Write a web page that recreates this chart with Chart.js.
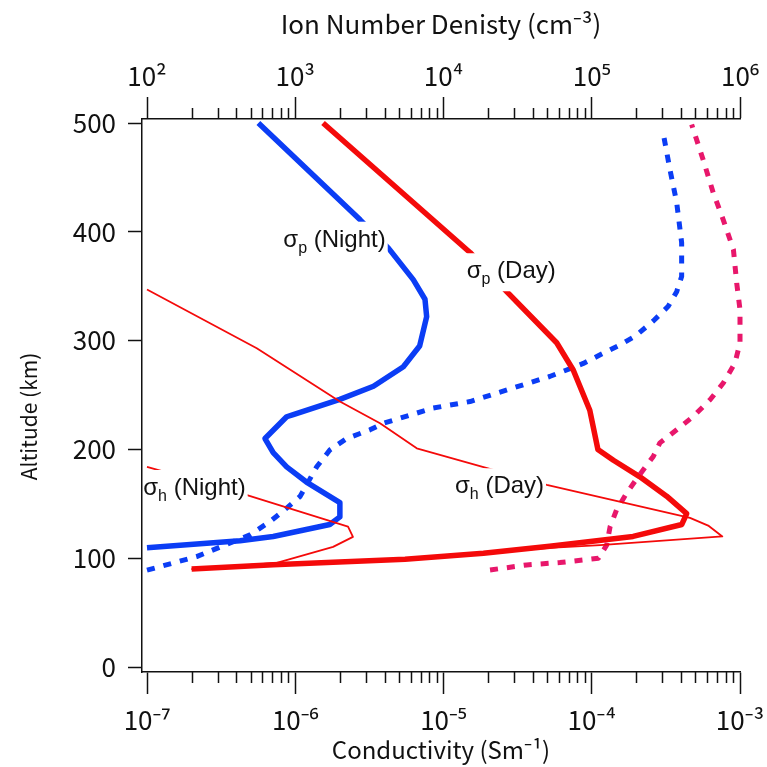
<!DOCTYPE html>
<html>
<head>
<meta charset="utf-8">
<script src="https://cdn.jsdelivr.net/npm/chart.js@4.4.1/dist/chart.umd.min.js"></script>
<style>
  html, body { margin: 0; padding: 0; background: #fff; }
  #wrap { width: 767px; height: 767px; }
</style>
</head>
<body>
<div id="wrap"><canvas id="myChart" width="767" height="767"></canvas></div>
<script>
// altitude (km) / value pairs
const pNightAlt  = [500, 411, 385, 356, 338, 322, 295, 276, 258, 246, 232, 230, 210, 197, 184, 170, 151, 138, 131, 120, 116, 109.5];
const pNightCond = [5.64e-7, 2.74e-6, 4.25e-6, 6.25e-6, 7.5e-6, 7.7e-6, 6.9e-6, 5.36e-6, 3.37e-6, 2.0e-6, 9.7e-7, 8.75e-7, 6.25e-7, 7.1e-7, 8.75e-7, 1.19e-6, 2.0e-6, 2.0e-6, 1.71e-6, 7.1e-7, 4.24e-7, 1.0e-7];

const pDayAlt  = [500, 381, 345, 298, 273, 236, 200, 190, 175, 157, 141, 131, 120, 111, 104.5, 99, 94, 90];
const pDayCond = [1.54e-6, 1.51e-5, 2.67e-5, 5.8e-5, 7.5e-5, 9.7e-5, 1.1e-4, 1.4e-4, 2.1e-4, 3.2e-4, 4.37e-4, 4.05e-4, 1.9e-4, 5.2e-5, 1.86e-5, 5.5e-6, 7.1e-7, 2.0e-7];

const hNightAlt  = [184, 158, 129, 119.6, 110.4, 95.7, 90];
const hNightCond = [1.0e-7, 4.73e-7, 2.27e-6, 2.45e-6, 1.8e-6, 7.5e-7, 2.0e-7];

const hDayAlt  = [347, 293, 244, 224, 201, 167.4, 137, 130, 120, 112, 109.5, 99, 90];
const hDayCond = [1.0e-7, 5.5e-7, 2.0e-6, 3.73e-6, 6.6e-6, 4.97e-5, 4.6e-4, 6.1e-4, 7.6e-4, 1.14e-4, 5.2e-5, 5.5e-6, 2.0e-7];

const nNightAlt  = [89, 101.5, 121.4, 133.7, 146, 156.7, 184, 199.6, 210, 218, 224, 238, 244, 267, 273, 279, 287, 295, 304, 318, 331.5, 345, 359, 390, 427, 457, 490];
const nNightDens = [100, 216, 495, 676, 875, 1077, 1396, 1715, 2222, 3190, 3929, 8530, 1.51e4, 5.2e4, 6.77e4, 8.77e4, 1.14e5, 1.5e5, 1.96e5, 2.6e5, 3.28e5, 3.74e5, 4.04e5, 4.04e5, 3.74e5, 3.37e5, 3.04e5];

const nDayAlt  = [89.2, 93.8, 96, 100, 112, 129, 144.4, 159.8, 175, 193.5, 206, 218, 230.3, 245.6, 261, 279.4, 297.8, 328.4, 353, 383.6, 411, 435.8, 466, 498.6];
const nDayDens = [2.06e4, 3.64e4, 6.1e4, 1.11e5, 1.26e5, 1.33e5, 1.47e5, 1.72e5, 2.06e5, 2.6e5, 2.88e5, 3.74e5, 4.84e5, 6.28e5, 7.71e5, 9.25e5, 1.0e6, 1.0e6, 9.5e5, 9.03e5, 7.71e5, 6.6e5, 5.65e5, 4.72e5];

const condTicks = [1e-7, 1e-6, 1e-5, 1e-4, 1e-3];
const condTickLabels = ['10\u207B\u2077', '10\u207B\u2076', '10\u207B\u2075', '10\u207B\u2074', '10\u207B\u00B3'];
const densTicks = [1e2, 1e3, 1e4, 1e5, 1e6];
const densTickLabels = ['10\u00B2', '10\u00B3', '10\u2074', '10\u2075', '10\u2076'];
const altTicks = [0, 100, 200, 300, 400, 500];

// curve names, anchored at (conductivity, altitude)
const notes = [
  { sym: '\u03C3', sub: 'p', text: '(Night)', x: 8.31e-7, y: 386.3 },
  { sym: '\u03C3', sub: 'p', text: '(Day)', x: 1.434e-5, y: 357.3 },
  { sym: '\u03C3', sub: 'h', text: '(Night)', x: 9.44e-8, y: 158.1 },
  { sym: '\u03C3', sub: 'h', text: '(Day)', x: 1.196e-5, y: 159.7 }
];

const BLUE = '#0b3df5';
const RED = '#f40a0a';
const PINK = '#e8176b';
const AXIS = '#111';
const FONT = '"Noto Sans CJK JP", "Noto Sans", sans-serif';
const NOTE_FONT = '"Liberation Sans", Arial, sans-serif';

// axis standoff like the original (axes sit a few px off the data)
const standoff = 5 / 148.25;

function pts(alt, val) {
  return alt.map((a, i) => ({ x: val[i], y: a }));
}

function noPad(s) {
  s.paddingLeft = 0; s.paddingRight = 0; s.paddingTop = 0; s.paddingBottom = 0;
}

const extras = {
  id: 'extras',
  afterDatasetsDraw(chart) {
    const ctx = chart.ctx;
    const xs = chart.scales.x, ys = chart.scales.y;
    ctx.save();
    notes.forEach(n => {
      const x0 = xs.getPixelForValue(n.x);
      const y0 = ys.getPixelForValue(n.y);
      ctx.font = '24px ' + NOTE_FONT;
      const wSym = ctx.measureText(n.sym).width;
      const wGap = ctx.measureText(' ').width;
      const wText = ctx.measureText(n.text).width;
      ctx.font = '16px ' + NOTE_FONT;
      const wSub = ctx.measureText(n.sub).width;
      const total = wSym + wSub + wGap + wText;
      const left = Math.max(x0 - 2, chart.chartArea.left + 1.5);
      ctx.fillStyle = '#fff';
      ctx.fillRect(left, y0 - 25, x0 + total + 2 - left, 38);
      ctx.fillStyle = '#111';
      ctx.textBaseline = 'alphabetic';
      ctx.textAlign = 'left';
      ctx.font = '24px ' + NOTE_FONT;
      ctx.fillText(n.sym, x0, y0);
      ctx.fillText(n.text, x0 + wSym + wSub + wGap, y0);
      ctx.font = '16px ' + NOTE_FONT;
      ctx.fillText(n.sub, x0 + wSym, y0 + 6);
    });
    ctx.restore();
  },
  afterDraw(chart) {
    // short minor ticks on both log axes
    const ctx = chart.ctx;
    ctx.save();
    ctx.strokeStyle = AXIS;
    ctx.lineWidth = 1.5;
    [['x', condTicks, 1], ['x2', densTicks, -1]].forEach(([id, majors, dir]) => {
      const s = chart.scales[id];
      const base = dir > 0 ? s.top : s.bottom;
      ctx.beginPath();
      for (let k = 0; k < majors.length - 1; k++) {
        for (let m = 2; m <= 9; m++) {
          const px = Math.round(s.getPixelForValue(majors[k] * m)) + 0.5;
          ctx.moveTo(px, base);
          ctx.lineTo(px, base + dir * 11);
        }
      }
      ctx.stroke();
    });
    ctx.restore();
  }
};

const ctx = document.getElementById('myChart').getContext('2d');
const chart = new Chart(ctx, {
  type: 'line',
  data: {
    datasets: [
      { label: 'sigma_h Day', data: pts(hDayAlt, hDayCond), xAxisID: 'x', borderColor: RED, borderWidth: 1.8 },
      { label: 'sigma_h Night', data: pts(hNightAlt, hNightCond), xAxisID: 'x', borderColor: RED, borderWidth: 1.8 },
      { label: 'Ion density Day', data: pts(nDayAlt, nDayDens), xAxisID: 'x2', borderColor: PINK, borderWidth: 5, borderDash: [8, 9], clip: 8 },
      { label: 'sigma_p Day', data: pts(pDayAlt, pDayCond), xAxisID: 'x', borderColor: RED, borderWidth: 5.5 },
      { label: 'Ion density Night', data: pts(nNightAlt, nNightDens), xAxisID: 'x2', borderColor: BLUE, borderWidth: 5, borderDash: [8, 9] },
      { label: 'sigma_p Night', data: pts(pNightAlt, pNightCond), xAxisID: 'x', borderColor: BLUE, borderWidth: 5.5 }
    ]
  },
  options: {
    responsive: false,
    animation: false,
    devicePixelRatio: 1,
    layout: { autoPadding: false, padding: { left: 0, top: 0, right: 27, bottom: 0 } },
    plugins: { legend: { display: false }, tooltip: { enabled: false } },
    elements: {
      point: { radius: 0 },
      line: { tension: 0, borderJoinStyle: 'round', borderCapStyle: 'butt', fill: false }
    },
    scales: {
      x: {
        type: 'logarithmic', axis: 'x', position: 'bottom', bounds: 'data',
        min: 1e-7 / Math.pow(10, standoff), max: 1e-3,
        afterBuildTicks: s => { s.ticks = condTicks.map(v => ({ value: v })); },
        afterFit: s => { s.height = 95; noPad(s); },
        grid: { display: true, drawOnChartArea: false, drawTicks: true, tickLength: 22, tickWidth: 1.5, tickColor: AXIS },
        border: { display: true, color: AXIS, width: 1.5 },
        ticks: { autoSkip: false, maxRotation: 0, padding: 11, color: '#111', font: { family: FONT, size: 26 },
                 callback: (v, i) => condTickLabels[i] },
        title: { display: true, text: 'Conductivity (Sm\u207B\u00B9)', color: '#111',
                 font: { family: FONT, size: 24 }, padding: { top: 0, bottom: 3 } }
      },
      x2: {
        type: 'logarithmic', axis: 'x', position: 'top', bounds: 'data',
        min: 1e2 / Math.pow(10, standoff), max: 1e6,
        afterBuildTicks: s => { s.ticks = densTicks.map(v => ({ value: v })); },
        afterFit: s => { s.height = 119; noPad(s); },
        grid: { display: true, drawOnChartArea: false, drawTicks: true, tickLength: 22, tickWidth: 1.5, tickColor: AXIS },
        border: { display: true, color: AXIS, width: 1.5 },
        ticks: { autoSkip: false, maxRotation: 0, padding: 5, color: '#111', font: { family: FONT, size: 26 },
                 callback: (v, i) => densTickLabels[i] },
        title: { display: true, text: 'Ion Number Denisty (cm\u207B\u00B3)', color: '#111',
                 font: { family: FONT, size: 26 }, padding: { top: 9, bottom: 0 } }
      },
      y: {
        type: 'linear', position: 'left', bounds: 'data',
        min: -5 / 1.088, max: 500 + 4 / 1.088,
        afterBuildTicks: s => { s.ticks = altTicks.map(v => ({ value: v })); },
        afterFit: s => { s.width = 142; noPad(s); },
        grid: { display: true, drawOnChartArea: false, drawTicks: true, tickLength: 14, tickWidth: 1.5, tickColor: AXIS },
        border: { display: true, color: AXIS, width: 1.5 },
        ticks: { autoSkip: false, padding: 12, color: '#111', font: { family: FONT, size: 26 } },
        title: { display: true, text: 'Altitude (km)\u2003\u2003', color: '#111',
                 font: { family: FONT, size: 21 }, padding: { top: 16, bottom: 0 } }
      }
    }
  },
  plugins: [extras]
});
</script>
</body>
</html>
